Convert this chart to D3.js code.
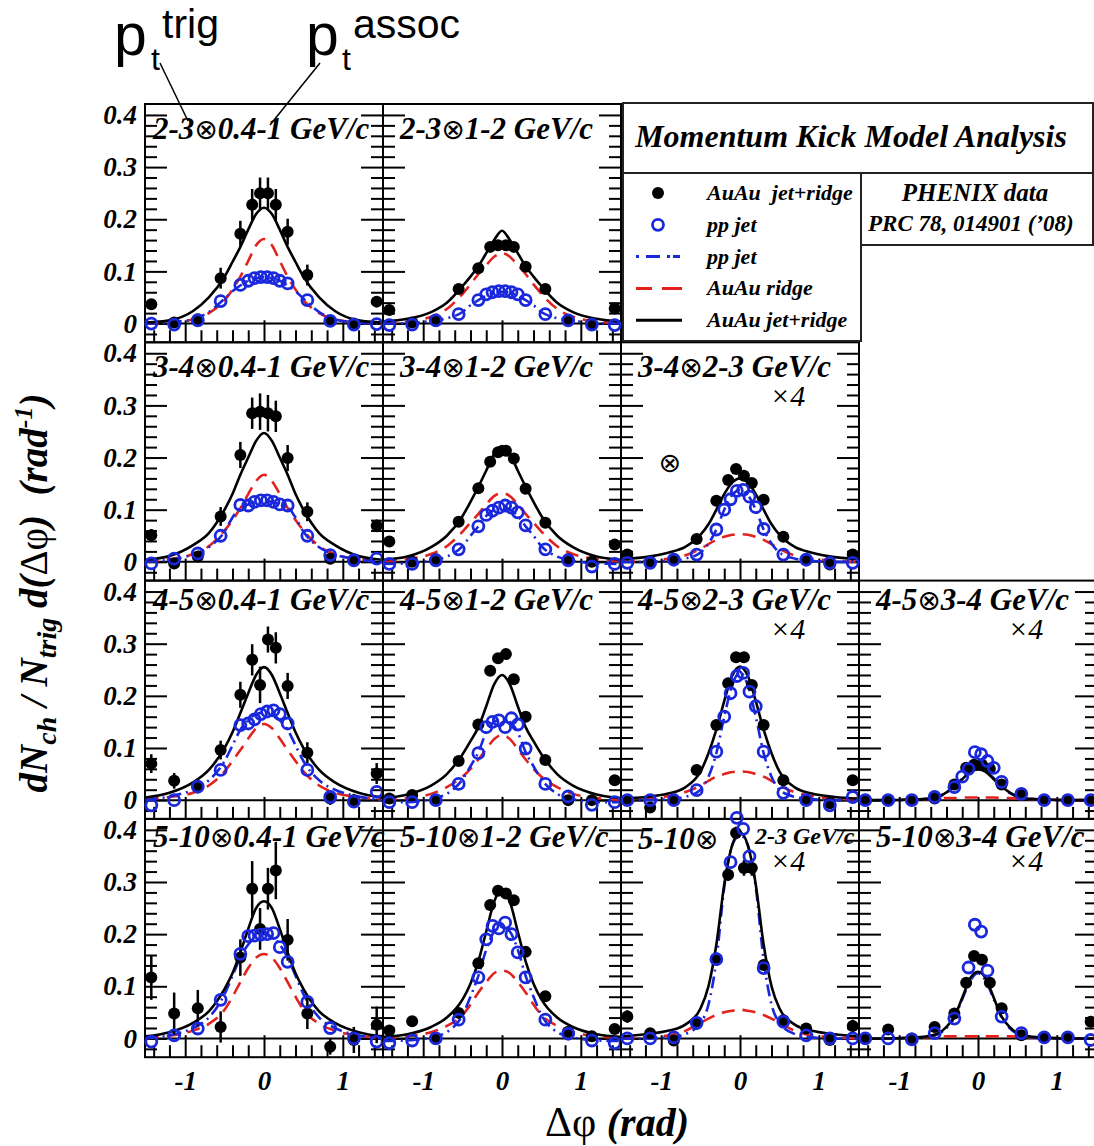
<!DOCTYPE html>
<html>
<head>
<meta charset="utf-8">
<script src="https://cdnjs.cloudflare.com/ajax/libs/d3/7.8.5/d3.min.js"></script>
<style>
body { margin:0; background:#fff; }
svg { display:block; }
text { font-family:"Liberation Serif","DejaVu Serif",serif; white-space:pre; }
</style>
</head>
<body>
<svg></svg>
<script>
// bin centres (rad)
var xAuAu = [-1.43,-1.14,-0.84,-0.55,-0.30,-0.15,-0.05,0.05,0.15,0.30,0.55,0.84,1.14,1.43];
var xPP   = [-1.43,-1.14,-0.84,-0.55,-0.30,-0.20,-0.12,-0.04,0.04,0.12,0.20,0.30,0.55,0.84,1.14,1.43];
var xFit  = [-1.5,-1.2,-0.9,-0.7,-0.5,-0.4,-0.3,-0.2,-0.1,0,0.1,0.2,0.3,0.4,0.5,0.7,0.9,1.2,1.5];

var yTickValues = [0,0.1,0.2,0.3,0.4];
var xTickValues = [-1,0,1];
var smallErr = [.005,.005,.005,.005,.005,.005,.005,.005,.005,.005,.005,.005,.005,.005];

// 2-3 x 0.4-1
var auau_r0c0 = [.037,.002,.008,.087,.172,.228,.25,.25,.228,.176,.093,.005,0,.042];
var err_r0c0  = [.01,.01,.01,.02,.025,.03,.03,.03,.03,.025,.02,.01,.01,.01];
var pp_r0c0   = [0,-.002,.006,.043,.074,.082,.087,.089,.089,.087,.082,.077,.045,.005,-.002,-.001];
var jet_r0c0  = [.002,.006,.024,.05,.09,.118,.147,.18,.21,.222,.21,.18,.147,.118,.09,.05,.024,.006,.002];
var ridge_r0c0= [0,.002,.008,.02,.045,.065,.09,.12,.15,.162,.15,.12,.09,.065,.045,.02,.008,.002,0];
var ppfit_r0c0= [0,.002,.008,.022,.048,.062,.073,.082,.087,.089,.087,.082,.073,.062,.048,.022,.008,.002,0];

// 2-3 x 1-2
var auau_r0c1 = [.026,.002,.006,.066,.106,.147,.15,.15,.147,.109,.066,.006,0,.029];
var pp_r0c1   = [-.003,-.002,.006,.018,.045,.056,.06,.062,.062,.06,.056,.045,.018,.006,-.002,-.003];
var jet_r0c1  = [.004,.009,.022,.04,.072,.09,.11,.135,.16,.178,.16,.135,.11,.09,.072,.04,.022,.009,.004];
var ridge_r0c1= [.001,.004,.013,.028,.057,.075,.095,.112,.128,.135,.128,.112,.095,.075,.057,.028,.013,.004,.001];
var ppfit_r0c1= [0,.001,.005,.01,.022,.035,.045,.053,.059,.061,.059,.053,.045,.035,.022,.01,.005,.001,0];

// 3-4 x 0.4-1
var auau_r1c0 = [.051,-.003,.01,.087,.205,.285,.288,.285,.279,.199,.096,.006,.003,.069];
var err_r1c0  = [.012,.01,.01,.018,.025,.03,.035,.035,.03,.025,.018,.01,.01,.012];
var pp_r1c0   = [-.003,.006,.016,.05,.109,.108,.115,.118,.118,.115,.11,.108,.05,.013,.003,.006];
var jet_r1c0  = [.004,.011,.032,.055,.1,.13,.167,.2,.232,.247,.232,.2,.167,.13,.1,.055,.032,.011,.004];
var ridge_r1c0= [.001,.005,.015,.03,.06,.08,.103,.13,.155,.167,.155,.13,.103,.08,.06,.03,.015,.005,.001];
var ppfit_r1c0= [0,.004,.014,.028,.058,.085,.105,.11,.115,.117,.115,.11,.105,.085,.058,.028,.014,.004,0];

// 3-4 x 1-2
var auau_r1c1 = [.039,0,.005,.077,.141,.192,.21,.213,.198,.14,.075,.005,0,.033];
var pp_r1c1   = [-.004,-.004,.003,.024,.068,.09,.098,.104,.108,.104,.095,.07,.024,.003,-.009,-.004];
var jet_r1c1  = [.004,.01,.028,.05,.088,.115,.144,.175,.207,.222,.207,.175,.144,.115,.088,.05,.028,.01,.004];
var ridge_r1c1= [.001,.005,.015,.03,.058,.075,.092,.11,.126,.132,.126,.11,.092,.075,.058,.03,.015,.005,.001];
var ppfit_r1c1= [-.004,-.003,.002,.01,.03,.05,.068,.088,.1,.106,.1,.088,.068,.05,.03,.01,.002,-.003,-.004];

// 3-4 x 2-3 (x4)
var auau_r1c2 = [.014,0,.005,.044,.117,.157,.178,.165,.151,.119,.048,.005,-.005,.014];
var pp_r1c2   = [-.002,-.002,.004,.014,.062,.1,.12,.136,.138,.125,.105,.063,.014,.004,-.002,-.002];
var jet_r1c2  = [.005,.009,.018,.028,.052,.072,.1,.13,.152,.16,.152,.13,.1,.072,.052,.028,.018,.009,.005];
var ridge_r1c2= [0,.002,.006,.012,.025,.034,.042,.048,.052,.053,.052,.048,.042,.034,.025,.012,.006,.002,0];
var ppfit_r1c2= [0,0,.002,.006,.018,.035,.062,.1,.128,.138,.128,.1,.062,.035,.018,.006,.002,0,0];

// 4-5 x 0.4-1
var auau_r2c0 = [.07,.037,.025,.096,.202,.269,.221,.308,.292,.219,.091,.003,0,.051];
var err_r2c0  = [.018,.015,.012,.018,.025,.03,.035,.025,.03,.025,.02,.012,.012,.02];
var pp_r2c0   = [-.01,0,.026,.058,.144,.147,.155,.165,.17,.172,.165,.147,.058,.006,-.003,.016];
var jet_r2c0  = [.005,.014,.034,.058,.1,.13,.167,.205,.24,.255,.24,.205,.167,.13,.1,.058,.034,.014,.005];
var ridge_r2c0= [.001,.006,.014,.028,.055,.075,.096,.118,.138,.146,.138,.118,.096,.075,.055,.028,.014,.006,.001];
var ppfit_r2c0= [0,.007,.02,.038,.075,.105,.135,.153,.165,.168,.165,.153,.135,.105,.075,.038,.02,.007,0];

// 4-5 x 1-2
var auau_r2c1 = [.003,.01,0,.075,.145,.248,.272,.28,.232,.16,.077,0,0,.038];
var pp_r2c1   = [-.004,-.004,0,.031,.09,.14,.15,.153,.14,.157,.145,.099,.031,.007,-.009,-.004];
var jet_r2c1  = [.004,.011,.028,.05,.088,.113,.14,.18,.222,.24,.222,.18,.14,.113,.088,.05,.028,.011,.004];
var ridge_r2c1= [.001,.004,.012,.025,.045,.06,.078,.098,.117,.125,.117,.098,.078,.06,.045,.025,.012,.004,.001];
var ppfit_r2c1= [-.004,-.004,.002,.012,.04,.065,.092,.13,.15,.155,.15,.13,.092,.065,.04,.012,.002,-.004,-.004];

// 4-5 x 2-3 (x4)
var auau_r2c2 = [0,-.014,0,.058,.144,.224,.274,.274,.221,.144,.038,0,-.006,.038];
var pp_r2c2   = [0,0,0,.019,.093,.16,.205,.238,.244,.208,.18,.093,.014,0,-.01,.006];
var jet_r2c2  = [.003,.006,.013,.024,.055,.09,.135,.19,.238,.256,.238,.19,.135,.09,.055,.024,.013,.006,.003];
var ridge_r2c2= [.001,.003,.008,.015,.028,.037,.045,.05,.054,.055,.054,.05,.045,.037,.028,.015,.008,.003,.001];
var ppfit_r2c2= [0,0,.002,.006,.02,.045,.09,.16,.22,.245,.22,.16,.09,.045,.02,.006,.002,0,0];

// 4-5 x 3-4 (x4)
var auau_r2c3 = [0,0,0,.003,.03,.062,.068,.068,.06,.03,.012,0,0,0];
var pp_r2c3   = [0,0,0,.006,.025,.045,.06,.092,.088,.075,.062,.035,.012,0,0,0];
var jet_r2c3  = [0,0,.001,.002,.007,.015,.026,.04,.054,.059,.054,.04,.026,.015,.007,.002,.001,0,0];
var ridge_r2c3= [0,0,.001,.002,.003,.004,.004,.005,.005,.005,.005,.005,.004,.004,.003,.002,.001,0,0];
var ppfit_r2c3= [0,0,0,.002,.007,.014,.026,.042,.056,.062,.056,.042,.026,.014,.007,.002,0,0,0];

// 5-10 x 0.4-1
var auau_r3c0 = [.117,.048,.058,.022,.155,.287,.21,.287,.322,.189,.048,-.016,-.003,.026];
var err_r3c0  = [.043,.04,.035,.03,.035,.053,.04,.04,.055,.04,.03,.015,.025,.035];
var pp_r3c0   = [-.006,.006,.019,.074,.162,.196,.197,.199,.2,.202,.175,.147,.07,.02,0,-.006];
var jet_r3c0  = [.004,.012,.03,.052,.095,.125,.165,.21,.25,.263,.25,.21,.165,.125,.095,.052,.03,.012,.004];
var ridge_r3c0= [.001,.005,.015,.028,.055,.08,.108,.135,.155,.162,.155,.135,.108,.08,.055,.028,.015,.005,.001];
var ppfit_r3c0= [0,.006,.02,.04,.085,.12,.155,.18,.195,.2,.195,.18,.155,.12,.085,.04,.02,.006,0];

// 5-10 x 1-2
var auau_r3c1 = [.015,.033,0,.049,.144,.256,.283,.278,.265,.166,.081,.013,.004,.018];
var pp_r3c1   = [-.009,-.004,0,.036,.117,.19,.216,.211,.222,.2,.165,.117,.036,.009,-.004,-.009];
var jet_r3c1  = [.003,.008,.022,.04,.075,.105,.148,.205,.262,.286,.262,.205,.148,.105,.075,.04,.022,.008,.003];
var ridge_r3c1= [.001,.004,.012,.024,.045,.065,.088,.108,.125,.13,.125,.108,.088,.065,.045,.024,.012,.004,.001];
var ppfit_r3c1= [-.005,-.004,.002,.012,.045,.08,.12,.17,.205,.215,.205,.17,.12,.08,.045,.012,.002,-.004,-.005];

// 5-10 x 2-3 (x4)
var auau_r3c2 = [.042,.01,-.004,.028,.151,.314,.394,.327,.327,.141,.035,.019,-.003,.024];
var err_r3c2  = [.012,.008,.008,.01,.01,.012,.012,.015,.015,.01,.01,.008,.008,.012];
var pp_r3c2   = [0,0,.002,.03,.152,null,.338,.423,.402,.349,null,.135,.032,.006,0,0];
var jet_r3c2  = [.004,.008,.015,.026,.058,.1,.18,.295,.37,.395,.37,.295,.18,.1,.058,.026,.015,.008,.004];
var ridge_r3c2= [0,.002,.006,.014,.03,.038,.045,.05,.053,.055,.053,.05,.045,.038,.03,.014,.006,.002,0];
var ppfit_r3c2= [0,0,.002,.008,.03,.065,.15,.29,.37,.39,.37,.29,.15,.065,.03,.008,.002,0,0];

// 5-10 x 3-4 (x4)
var auau_r3c3 = [0,.017,0,.022,.048,.107,.158,.151,.107,.058,.006,.002,.002,.032];
var pp_r3c3   = [0,0,-.002,.01,.038,null,.136,.218,.205,.13,null,.042,.01,.002,.002,-.003];
var jet_r3c3  = [0,0,.001,.003,.01,.022,.042,.078,.115,.128,.115,.078,.042,.022,.01,.003,.001,0,0];
var ridge_r3c3= [0,0,.001,.002,.003,.004,.004,.004,.004,.004,.004,.004,.004,.004,.003,.002,.001,0,0];
var ppfit_r3c3= [0,0,0,.002,.009,.02,.04,.075,.11,.125,.11,.075,.04,.02,.009,.002,0,0,0];

var panels = [
  {row:0,col:0,trig:"2-3", assoc:"0.4-1",x4:false,auau:auau_r0c0,err:err_r0c0,pp:pp_r0c0,jet:jet_r0c0,ridge:ridge_r0c0,ppfit:ppfit_r0c0},
  {row:0,col:1,trig:"2-3", assoc:"1-2",  x4:false,auau:auau_r0c1,err:smallErr,pp:pp_r0c1,jet:jet_r0c1,ridge:ridge_r0c1,ppfit:ppfit_r0c1},
  {row:1,col:0,trig:"3-4", assoc:"0.4-1",x4:false,auau:auau_r1c0,err:err_r1c0,pp:pp_r1c0,jet:jet_r1c0,ridge:ridge_r1c0,ppfit:ppfit_r1c0},
  {row:1,col:1,trig:"3-4", assoc:"1-2",  x4:false,auau:auau_r1c1,err:smallErr,pp:pp_r1c1,jet:jet_r1c1,ridge:ridge_r1c1,ppfit:ppfit_r1c1},
  {row:1,col:2,trig:"3-4", assoc:"2-3",  x4:true, auau:auau_r1c2,err:smallErr,pp:pp_r1c2,jet:jet_r1c2,ridge:ridge_r1c2,ppfit:ppfit_r1c2},
  {row:2,col:0,trig:"4-5", assoc:"0.4-1",x4:false,auau:auau_r2c0,err:err_r2c0,pp:pp_r2c0,jet:jet_r2c0,ridge:ridge_r2c0,ppfit:ppfit_r2c0},
  {row:2,col:1,trig:"4-5", assoc:"1-2",  x4:false,auau:auau_r2c1,err:smallErr,pp:pp_r2c1,jet:jet_r2c1,ridge:ridge_r2c1,ppfit:ppfit_r2c1},
  {row:2,col:2,trig:"4-5", assoc:"2-3",  x4:true, auau:auau_r2c2,err:smallErr,pp:pp_r2c2,jet:jet_r2c2,ridge:ridge_r2c2,ppfit:ppfit_r2c2},
  {row:2,col:3,trig:"4-5", assoc:"3-4",  x4:true, auau:auau_r2c3,err:smallErr,pp:pp_r2c3,jet:jet_r2c3,ridge:ridge_r2c3,ppfit:ppfit_r2c3},
  {row:3,col:0,trig:"5-10",assoc:"0.4-1",x4:false,auau:auau_r3c0,err:err_r3c0,pp:pp_r3c0,jet:jet_r3c0,ridge:ridge_r3c0,ppfit:ppfit_r3c0},
  {row:3,col:1,trig:"5-10",assoc:"1-2",  x4:false,auau:auau_r3c1,err:smallErr,pp:pp_r3c1,jet:jet_r3c1,ridge:ridge_r3c1,ppfit:ppfit_r3c1},
  {row:3,col:2,trig:"5-10",assoc:"2-3",  x4:true, split:true,auau:auau_r3c2,err:err_r3c2,pp:pp_r3c2,jet:jet_r3c2,ridge:ridge_r3c2,ppfit:ppfit_r3c2},
  {row:3,col:3,trig:"5-10",assoc:"3-4",  x4:true, auau:auau_r3c3,err:smallErr,pp:pp_r3c3,jet:jet_r3c3,ridge:ridge_r3c3,ppfit:ppfit_r3c3}
];

var legendEntries = [
  {kind:"dot",     label:"AuAu  jet+ridge"},
  {kind:"circle",  label:"pp jet"},
  {kind:"dashdot", label:"pp jet"},
  {kind:"dash",    label:"AuAu ridge"},
  {kind:"solid",   label:"AuAu jet+ridge"}
];

var blue = "#1a28dc";
var red = "#e3221e";

var screen = {width:1094, height:1146};
var layout = {left:145, top:104, width:238, height:238.3};
var titleBase = [35,35,29,28];
var x4Base = [0,64,58,52];

var svg = d3.select("svg")
            .attr("width",screen.width)
            .attr("height",screen.height);

var xScale = d3.scaleLinear()
               .domain([-1.51,1.51])
               .range([0,layout.width]);

var yScale = d3.scaleLinear()
               .domain([-0.036,0.421])
               .range([layout.height,0]);

var minorY = d3.range(-1,21).filter(function(i){return i%5!=0}).map(function(i){return i*0.02});
var minorX = d3.range(-7,8).filter(function(i){return i%5!=0}).map(function(i){return i*0.2});

var fitLine = d3.line()
                .x(function(d){return xScale(d[0])})
                .y(function(d){return yScale(d[1])})
                .curve(d3.curveMonotoneX);

var tickStyle = function(g)
{
  g.select(".domain").remove();
  g.selectAll("line").attr("stroke","#000").attr("stroke-width",2);
}

// title with a thin otimes glyph
var addTitle = function(g,x,y,size,first,rest)
{
  var t = g.append("text").attr("x",x).attr("y",y)
           .style("font-size",size+"px").style("font-style","italic").style("font-weight","bold");
  t.append("tspan").text(first);
  t.append("tspan").style("font-family","DejaVu Sans").style("font-style","normal")
   .style("font-weight","normal").style("font-size",(size-3)+"px").text("⊗");
  if(rest) t.append("tspan").text(rest);
}

panels.forEach(function(p)
{
  var px = layout.left + p.col*layout.width;
  var py = layout.top + p.row*layout.height;
  var g = svg.append("g")
             .classed("panel",true)
             .attr("transform","translate("+px+","+py+")");

  // ticks, pointing inward
  g.append("g").call(d3.axisRight(yScale).tickValues(yTickValues).tickSize(22).tickFormat("")).call(tickStyle);
  g.append("g").call(d3.axisRight(yScale).tickValues(minorY).tickSize(12).tickFormat("")).call(tickStyle);
  g.append("g").attr("transform","translate("+layout.width+",0)")
   .call(d3.axisLeft(yScale).tickValues(yTickValues).tickSize(22).tickFormat("")).call(tickStyle);
  g.append("g").attr("transform","translate("+layout.width+",0)")
   .call(d3.axisLeft(yScale).tickValues(minorY).tickSize(12).tickFormat("")).call(tickStyle);
  g.append("g").attr("transform","translate(0,"+layout.height+")")
   .call(d3.axisTop(xScale).tickValues(xTickValues).tickSize(22).tickFormat("")).call(tickStyle);
  g.append("g").attr("transform","translate(0,"+layout.height+")")
   .call(d3.axisTop(xScale).tickValues(minorX).tickSize(12).tickFormat("")).call(tickStyle);

  g.append("rect")
   .attr("width",layout.width).attr("height",layout.height)
   .attr("fill","none").attr("stroke","#000").attr("stroke-width",2);

  g.append("line")
   .attr("x1",0).attr("x2",layout.width)
   .attr("y1",yScale(0)).attr("y2",yScale(0))
   .attr("stroke","#000").attr("stroke-width",2);

  // titles
  var tx = p.col==0 ? 8 : 17;
  if(p.split)
  {
    addTitle(g,tx,titleBase[p.row]+2,31,p.trig,null);
    g.append("text").attr("x",134).attr("y",titleBase[p.row]-3)
     .style("font-size","24px").style("font-style","italic").style("font-weight","bold")
     .text(p.assoc+" GeV/c");
  }
  else
  {
    addTitle(g,tx,titleBase[p.row],31,p.trig,p.assoc+" GeV/c");
  }
  if(p.x4)
  {
    g.append("text").attr("x",149).attr("y",x4Base[p.row])
     .style("font-size","30px").style("font-style","italic")
     .text("×4");
  }

  // fits
  g.append("path").datum(d3.zip(xFit,p.ridge))
   .attr("d",fitLine).attr("fill","none")
   .attr("stroke",red).attr("stroke-width",2.6).attr("stroke-dasharray","13,8");
  g.append("path").datum(d3.zip(xFit,p.ppfit))
   .attr("d",fitLine).attr("fill","none")
   .attr("stroke",blue).attr("stroke-width",2.6).attr("stroke-dasharray","12,5,2,5");
  g.append("path").datum(d3.zip(xFit,p.jet))
   .attr("d",fitLine).attr("fill","none")
   .attr("stroke","#000").attr("stroke-width",2.6);

  // AuAu points
  var au = d3.zip(xAuAu,p.auau,p.err);
  g.selectAll(".err").data(au).enter().append("line")
   .attr("x1",function(d){return xScale(d[0])}).attr("x2",function(d){return xScale(d[0])})
   .attr("y1",function(d){return yScale(d[1]-d[2])}).attr("y2",function(d){return yScale(d[1]+d[2])})
   .attr("stroke","#000").attr("stroke-width",2.5);
  g.selectAll(".au").data(au).enter().append("circle")
   .attr("cx",function(d){return xScale(d[0])})
   .attr("cy",function(d){return yScale(d[1])})
   .attr("r",6).attr("fill","#000");

  // pp points
  var pp = d3.zip(xPP,p.pp).filter(function(d){return d[1]!==null});
  g.selectAll(".pp").data(pp).enter().append("circle")
   .attr("cx",function(d){return xScale(d[0])})
   .attr("cy",function(d){return yScale(d[1])})
   .attr("r",5.5).attr("fill","none").attr("stroke",blue).attr("stroke-width",2.8);

  // tick labels
  if(p.col==0)
  {
    g.append("g").call(d3.axisLeft(yScale).tickValues(yTickValues).tickSize(0).tickPadding(8)
                         .tickFormat(function(d){return d==0 ? "0" : d3.format(".1f")(d)}))
     .call(function(a)
     {
       a.select(".domain").remove();
       a.selectAll("text").attr("fill","#000")
        .style("font-family","Liberation Serif").style("font-size","27px")
        .style("font-style","italic").style("font-weight","bold");
     });
  }
  if(p.row==3)
  {
    g.append("g").attr("transform","translate(0,"+layout.height+")")
     .call(d3.axisBottom(xScale).tickValues(xTickValues).tickSize(0).tickPadding(14)
                               .tickFormat(function(d){return d3.format("d")(d).replace("−","-")}))
     .call(function(a)
     {
       a.select(".domain").remove();
       a.selectAll("text").attr("fill","#000")
        .style("font-family","Liberation Serif").style("font-size","27px")
        .style("font-style","italic").style("font-weight","bold");
     });
  }
});

// stray marker in 3-4 x 2-3 panel
svg.append("text").attr("x",670).attr("y",463).attr("text-anchor","middle").attr("dy","0.35em")
   .style("font-family","DejaVu Sans").style("font-size","27px").text("⊗");

// legend boxes
var legend = svg.append("g").classed("legend",true);
legend.append("rect").attr("x",623).attr("y",103).attr("width",470).attr("height",70)
      .attr("fill","#fff").attr("stroke","#222").attr("stroke-width",2);
legend.append("rect").attr("x",623).attr("y",173).attr("width",238).attr("height",168)
      .attr("fill","#fff").attr("stroke","#222").attr("stroke-width",2);
legend.append("rect").attr("x",861).attr("y",173).attr("width",232).attr("height",72)
      .attr("fill","#fff").attr("stroke","#222").attr("stroke-width",2);

legend.append("text").attr("x",851).attr("y",147).attr("text-anchor","middle")
      .style("font-size","32px").style("font-style","italic").style("font-weight","bold")
      .text("Momentum Kick Model Analysis");
legend.append("text").attr("x",975).attr("y",201).attr("text-anchor","middle")
      .style("font-size","25px").style("font-style","italic").style("font-weight","bold")
      .text("PHENIX data");
legend.append("text").attr("x",868).attr("y",231)
      .style("font-size","23px").style("font-style","italic").style("font-weight","bold")
      .text("PRC 78, 014901 (\u201908)");

var legendLines = legend.selectAll(".entry")
                        .data(legendEntries)
                        .enter()
                        .append("g")
                        .classed("entry",true)
                        .attr("transform",function(d,i){return "translate(0,"+(193+i*31.8)+")"});

legendLines.each(function(d)
{
  var e = d3.select(this);
  if(d.kind=="dot") e.append("circle").attr("cx",658).attr("r",6).attr("fill","#000");
  if(d.kind=="circle") e.append("circle").attr("cx",658).attr("r",5.5).attr("fill","none").attr("stroke",blue).attr("stroke-width",2.8);
  if(d.kind=="dashdot") e.append("line").attr("x1",636).attr("x2",682).attr("stroke",blue).attr("stroke-width",3).attr("stroke-dasharray","3,7,14,7,3");
  if(d.kind=="dash") e.append("line").attr("x1",636).attr("x2",682).attr("stroke",red).attr("stroke-width",3).attr("stroke-dasharray","16,10,20");
  if(d.kind=="solid") e.append("line").attr("x1",636).attr("x2",682).attr("stroke","#000").attr("stroke-width",3);
});

legendLines.append("text")
           .attr("x",707).attr("y",7)
           .style("font-size","22px").style("font-style","italic").style("font-weight","bold")
           .text(function(d){return d.label});

// axis titles
var yTitle = svg.append("text")
                .attr("transform","translate(47,593) rotate(-90)")
                .attr("text-anchor","middle")
                .style("font-size","39px").style("font-style","italic").style("font-weight","bold");
yTitle.append("tspan").text("dN");
yTitle.append("tspan").attr("dy",9).style("font-size","28px").text("ch");
yTitle.append("tspan").attr("dy",-9).text(" / N");
yTitle.append("tspan").attr("dy",9).style("font-size","28px").text("trig");
yTitle.append("tspan").attr("dy",-9).text(" d(");
yTitle.append("tspan").style("font-style","normal").style("font-weight","normal").text("Δφ");
yTitle.append("tspan").text(")  (rad");
yTitle.append("tspan").attr("dy",-15).style("font-size","26px").text("-1");
yTitle.append("tspan").attr("dy",15).text(")");

var xTitle = svg.append("text").attr("x",545).attr("y",1136);
xTitle.append("tspan").style("font-size","42px").text("Δφ ");
xTitle.append("tspan").style("font-size","40px").style("font-style","italic").style("font-weight","bold").text("(rad)");

// pt labels
var sans = "Liberation Sans";
var ptLabels = [
  {x:114, sub:151, sup:162, text:"trig", lx1:160, ly1:63, lx2:188, ly2:121},
  {x:306, sub:342, sup:353, text:"assoc", lx1:320, ly1:63, lx2:270, ly2:125}
];
ptLabels.forEach(function(d)
{
  svg.append("text").attr("x",d.x).attr("y",55).style("font-family",sans).style("font-size","59px").text("p");
  svg.append("text").attr("x",d.sub).attr("y",70).style("font-family",sans).style("font-size","32px").text("t");
  svg.append("text").attr("x",d.sup).attr("y",38).style("font-family",sans).style("font-size","41px").text(d.text);
  svg.append("line").attr("x1",d.lx1).attr("y1",d.ly1).attr("x2",d.lx2).attr("y2",d.ly2)
     .attr("stroke","#000").attr("stroke-width",1.5);
});
</script>
</body>
</html>
